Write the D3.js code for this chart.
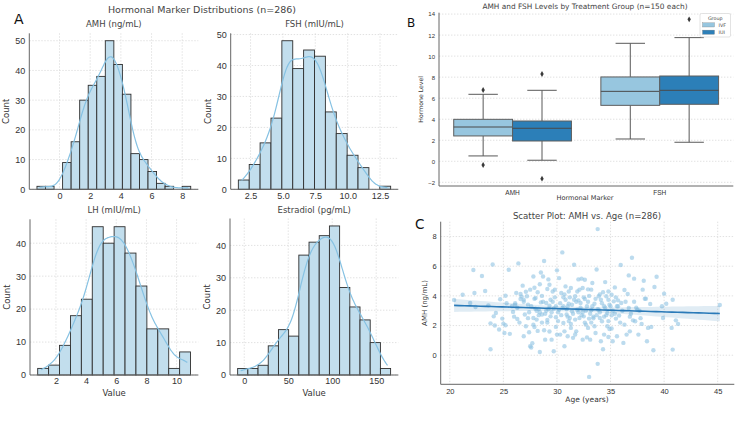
<!DOCTYPE html>
<html>
<head>
<meta charset="utf-8">
<script src="https://cdn.jsdelivr.net/npm/d3@7"></script>
<style>
body { margin: 0; background: #fff; }
svg { font-family: "DejaVu Sans", sans-serif; }
.grid line { stroke: #d4d4d4; stroke-dasharray: 1.4,1.6; stroke-width: 0.7; }
.axis path { stroke: #666; }
.axis line { stroke: #666; }
.axis text { fill: #333; }
</style>
</head>
<body>
<svg id="chart" width="750" height="422"></svg>
<script>
// ---- histogram data (bin start, bin width, counts) ----
var amhStart = -1.47, amhWidth = 0.557;
var amhCounts = [1, 1, 0, 9, 16, 30, 35, 38, 50, 42, 32, 12, 10, 6, 2, 1, 0, 1];
var fshStart = 1.56, fshWidth = 0.84;
var fshCounts = [3, 8, 15, 23, 48, 39, 45, 43, 25, 18, 11, 7, 0, 1];
var lhStart = 0.79, lhWidth = 0.724;
var lhCounts = [2, 3, 9, 18, 23, 45, 40, 45, 37, 27, 14, 14, 2, 7];
var e2Start = -7.5, e2Width = 11.59;
var e2Counts = [2, 2, 3, 9, 14, 12, 37, 41, 43, 46, 27, 21, 17, 10, 2];

var amhTicks = [0, 2, 4, 6, 8];
var fshTicks = [2.5, 5.0, 7.5, 10.0, 12.5];
var lhTicks = [2, 4, 6, 8, 10];
var e2Ticks = [0, 50, 100, 150];

// ---- box plot data ----
var boxMarkers = ["AMH", "FSH"];
var boxGroups = ["IVF", "IUI"];
var ivfLow = [0.51, 2.12], ivfQ1 = [2.41, 5.32], ivfMed = [3.26, 6.65], ivfQ3 = [3.99, 8.02], ivfHigh = [6.37, 11.22];
var ivfOutliers = [[6.78, -0.35], []];
var iuiLow = [0.10, 1.81], iuiQ1 = [1.93, 5.42], iuiMed = [3.14, 6.75], iuiQ3 = [3.83, 8.11], iuiHigh = [6.75, 11.76];
var iuiOutliers = [[8.3, -1.65], [13.5]];
var groupColors = ["#97c6df", "#2c7fb8"];

// ---- scatter data (age, AMH) ----
var ages = [20.4,21.2,21.9,22.2,22.3,22.4,23.0,23.3,23.6,23.8,23.8,24.0,24.1,24.2,24.3,24.6,24.7,24.9,25.0,25.1,25.2,25.3,25.5,25.6,25.2,
  25.9,26.1,26.1,26.3,26.4,26.6,26.6,26.7,26.8,26.9,26.9,27.0,27.1,27.1,27.2,27.3,27.4,27.5,27.5,27.6,27.7,27.8,27.8,27.8,27.9,28.0,28.0,28.1,28.2,28.2,28.3,28.4,28.4,28.5,28.5,28.6,28.7,28.8,28.8,28.9,29.0,29.0,29.1,29.1,29.2,29.3,29.3,29.4,29.4,29.5,29.6,29.7,29.7,29.8,29.9,29.9,30.0,30.0,
  30.2,30.2,30.3,30.4,30.5,30.5,30.6,30.7,30.7,30.8,30.8,30.9,31.0,31.1,31.1,31.2,31.3,31.3,31.4,31.5,31.6,31.6,31.7,31.7,31.8,31.9,32.0,32.1,32.1,32.2,32.3,32.4,32.4,32.5,32.6,32.6,32.7,32.8,32.9,32.9,33.0,33.0,33.1,33.2,33.2,33.3,33.4,33.5,33.5,33.6,33.7,33.8,33.8,33.9,33.9,34.0,34.1,34.1,34.2,34.3,34.3,34.4,34.4,34.5,34.6,34.7,34.7,34.8,34.8,34.9,35.0,
  35.1,35.1,35.2,35.3,35.4,35.5,35.6,35.6,35.7,35.8,35.95,36.0,36.2,36.3,36.5,36.6,36.7,36.7,36.8,37.0,37.1,37.2,37.3,37.5,37.6,37.7,37.9,38.0,38.1,38.2,38.3,38.4,38.5,38.7,38.8,39.0,39.1,39.3,39.8,39.9,40.0,
  40.2,40.7,40.8,40.8,41.1,41.3,45.2,
  26.3,26.9,27.4,27.6,28.1,28.4,28.7,28.9,29.2,29.5,29.6,29.9,30.1,30.3,30.4,30.6,30.9,31.0,31.2,31.4,31.5,31.8,32.0,32.2,32.3,32.5,32.7,32.9,33.1,33.3,33.4,33.6,33.8,34.0,34.2,34.5,34.6,34.9,35.2,35.4,35.7,36.1,36.4,36.9,37.4,27.9,28.6,30.7,31.9,33.0,29.1,31.1,32.6,34.8,26.0,
  26.5,27.3,27.9,28.6,29.3,29.8,30.1,30.6,31.0,31.3,31.7,32.0,32.4,32.8,33.2,33.7,34.0,34.4,34.8,35.1,35.5,35.9,36.3,36.8,37.2,37.8,26.2,25.8,28.3];
var amhValues = [3.72,4.08,3.52,5.74,4.19,3.25,5.34,4.33,3.36,0.40,2.15,6.12,2.62,2.0,2.85,1.73,3.77,2.47,2.13,1.5,4.01,3.5,5.76,1.44,2.02,
  2.92,3.41,3.5,2.44,6.19,3.79,4.13,3.95,4.69,3.74,1.28,2.74,1.95,4.28,3.97,3.41,1.55,4.42,0.6,0.52,0.81,5.31,2.51,2.06,4.55,3.14,3.86,2.4,1.64,4.24,3.12,4.78,0.22,5.58,3.56,2.74,5.31,6.35,1.68,1.05,3.52,3.0,4.46,2.38,5.11,4.75,3.34,3.74,2.62,1.05,4.30,0.27,3.14,4.42,2.56,1.91,5.72,1.39,
  5.2,3.07,1.39,4.19,6.93,3.18,2.17,1.61,0.6,3.74,4.64,2.74,1.28,3.47,4.30,2.51,1.84,4.53,2.96,1.17,6.10,3.74,2.4,3.97,1.61,3.07,5.11,4.42,2.51,3.52,5.16,1.05,4.53,2.62,5.09,3.79,2.06,3.3,4.44,1.84,-1.46,2.47,1.05,4.42,3.03,4.87,2.49,3.47,1.95,1.5,5.78,-0.58,8.5,3.97,3.07,2.51,3.74,0.94,2.29,0.40,4.24,3.30,1.39,4.93,3.97,2.85,1.95,3.74,1.23,1.77,3.3,
  4.08,2.69,0.94,3.63,4.57,2.47,3.30,1.28,3.70,2.67,6.08,3.52,0.83,2.06,1.39,4.13,5.38,3.18,1.61,6.57,2.35,5.16,2.29,3.07,1.39,3.0,2.11,4.42,5.02,3.81,3.81,0.94,1.84,3.45,1.91,0.34,4.60,5.29,3.30,2.51,4.15,
  3.47,1.84,3.74,0.38,2.35,2.11,3.39,
  3.2,3.6,2.9,3.3,3.0,2.9,3.6,2.8,3.1,2.9,3.6,3.3,2.9,3.5,2.7,3.3,3.1,2.6,3.9,3.4,2.8,3.6,2.9,3.2,2.7,3.9,3.0,3.6,2.8,3.3,2.6,3.8,3.1,2.9,3.5,3.2,2.7,3.4,3.0,2.8,3.3,3.0,3.6,2.8,3.2,3.8,4.0,4.1,4.3,4.0,2.2,2.3,2.2,2.3,2.6,
  2.2,2.5,1.9,2.2,1.6,3.9,2.3,3.9,3.3,2.1,1.4,3.7,2.9,1.2,2.2,2.7,4.1,2.6,4.3,1.8,3.9,2.2,4.4,2.6,3.6,2.5,4.2,3.3,2.7];

var svg = d3.select("#chart");

function hline(g, cls, vals, scale, x1, x2) {
    g.append("g").attr("class", cls).selectAll("line").data(vals).join("line")
        .attr("x1", x1).attr("x2", x2)
        .attr("y1", function(d){ return scale(d); })
        .attr("y2", function(d){ return scale(d); });
}
function vline(g, cls, vals, scale, y1, y2) {
    g.append("g").attr("class", cls).selectAll("line").data(vals).join("line")
        .attr("y1", y1).attr("y2", y2)
        .attr("x1", function(d){ return scale(d); })
        .attr("x2", function(d){ return scale(d); });
}

// ---------- Panel A: histograms ----------
function drawHist(o) {
    var g = svg.append("g");
    var x = d3.scaleLinear().domain(o.xDomain).range([o.left, o.right]);
    var y = d3.scaleLinear().domain([0, o.yMax]).range([o.bottom, o.top]);
    var yTicks = d3.range(0, o.yMax, 10);

    vline(g, "grid", o.ticks, x, o.top, o.bottom);
    hline(g, "grid", yTicks, y, o.left, o.right);

    var bins = o.counts.map(function(c, i){
        return { x0: o.start + i * o.width, x1: o.start + (i + 1) * o.width, c: c };
    });
    g.selectAll("rect.bar").data(bins.filter(function(b){ return b.c > 0; })).join("rect")
        .attr("class", "bar")
        .attr("x", function(d){ return x(d.x0); })
        .attr("width", function(d){ return x(d.x1) - x(d.x0); })
        .attr("y", function(d){ return y(d.c); })
        .attr("height", function(d){ return y(0) - y(d.c); })
        .attr("fill", "#c2deed")
        .attr("stroke", "#2e2e2e")
        .attr("stroke-width", 0.9);

    // kde from the binned counts (scott bandwidth)
    var n = d3.sum(bins, function(b){ return b.c; });
    var mean = d3.sum(bins, function(b){ return b.c * (b.x0 + b.x1) / 2; }) / n;
    var sd = Math.sqrt(d3.sum(bins, function(b){ var m = (b.x0 + b.x1) / 2 - mean; return b.c * m * m; }) / (n - 1));
    var bw = sd * Math.pow(n, -0.2);
    var lo = o.start + o.width * 0.3, hi = o.start + o.counts.length * o.width - o.width * 0.3;
    var pts = d3.range(0, 121).map(function(i){
        var xv = lo + (hi - lo) * i / 120;
        var dens = d3.sum(bins, function(b){
            var z = (xv - (b.x0 + b.x1) / 2) / bw;
            return b.c * Math.exp(-0.5 * z * z) / (bw * Math.sqrt(2 * Math.PI));
        });
        return [xv, dens * o.width];
    });
    g.append("path").datum(pts)
        .attr("fill", "none").attr("stroke", "#86c2e3").attr("stroke-width", 1.2)
        .attr("d", d3.line().curve(d3.curveBasis).x(function(d){ return x(d[0]); }).y(function(d){ return y(d[1]); }));

    g.append("g").attr("class", "axis")
        .attr("transform", "translate(0," + o.bottom + ")")
        .call(d3.axisBottom(x).tickValues(o.ticks).tickSize(0).tickPadding(3).tickFormat(o.fmt))
        .call(function(a){ a.selectAll("text").attr("font-size", 9); })
        .select(".domain").attr("d", "M" + o.left + ",0H" + o.right);
    g.append("g").attr("class", "axis")
        .attr("transform", "translate(" + o.left + ",0)")
        .call(d3.axisLeft(y).tickValues(yTicks).tickSize(0).tickPadding(4))
        .call(function(a){ a.selectAll("text").attr("font-size", 9); })
        .select(".domain").attr("d", "M0," + o.top + "V" + o.bottom);

    g.append("text").attr("x", (o.left + o.right) / 2).attr("y", o.top - 6)
        .attr("text-anchor", "middle").attr("font-size", 8.5).attr("fill", "#444").text(o.title);
    g.append("text").attr("transform", "translate(" + (o.left - 20) + "," + ((o.top + o.bottom) / 2) + ") rotate(-90)")
        .attr("text-anchor", "middle").attr("font-size", 8.5).attr("fill", "#333").text("Count");
    if (o.xlabel) {
        g.append("text").attr("x", (o.left + o.right) / 2).attr("y", o.bottom + 21)
            .attr("text-anchor", "middle").attr("font-size", 8.5).attr("fill", "#333").text(o.xlabel);
    }
}

svg.append("text").attr("x", 202).attr("y", 12.5).attr("text-anchor", "middle")
    .attr("font-size", 9.5).attr("fill", "#444").text("Hormonal Marker Distributions (n=286)");
svg.append("text").attr("x", 14).attr("y", 24).attr("font-size", 14).attr("fill", "#111").text("A");

drawHist({ title: "AMH (ng/mL)", start: amhStart, width: amhWidth, counts: amhCounts, ticks: amhTicks,
    xDomain: [-1.97, 9.05], yMax: 52.5, left: 29.3, right: 198.3, top: 33.3, bottom: 189.3, fmt: d3.format("d") });
drawHist({ title: "FSH (mIU/mL)", start: fshStart, width: fshWidth, counts: fshCounts, ticks: fshTicks,
    xDomain: [0.97, 13.91], yMax: 50.4, left: 230.7, right: 398.3, top: 33.3, bottom: 189.3, fmt: d3.format(".1f") });
drawHist({ title: "LH (mIU/mL)", start: lhStart, width: lhWidth, counts: lhCounts, ticks: lhTicks,
    xDomain: [0.28, 11.44], yMax: 47.25, left: 30, right: 198.3, top: 219.3, bottom: 375, fmt: d3.format("d"), xlabel: "Value" });
drawHist({ title: "Estradiol (pg/mL)", start: e2Start, width: e2Width, counts: e2Counts, ticks: e2Ticks,
    xDomain: [-16.2, 175.1], yMax: 48.3, left: 230, right: 398.3, top: 218.5, bottom: 375, fmt: d3.format("d"), xlabel: "Value" });

// ---------- Panel B: box plot ----------
(function(){
    var left = 439, right = 733.3, top = 12.7, bottom = 186;
    var g = svg.append("g");
    var x = d3.scaleBand().domain(boxMarkers).range([left, right]);
    var xs = d3.scaleBand().domain(boxGroups).range([x.bandwidth() * 0.1, x.bandwidth() * 0.9]);
    var y = d3.scaleLinear().domain([-2.35, 14.13]).range([bottom, top]);
    var yTicks = d3.range(-2, 15, 2);

    hline(g, "grid", yTicks, y, left, right);

    var rows = [];
    boxMarkers.forEach(function(m, i){
        rows.push({ m: m, grp: "IVF", lo: ivfLow[i], q1: ivfQ1[i], med: ivfMed[i], q3: ivfQ3[i], hi: ivfHigh[i], out: ivfOutliers[i] });
        rows.push({ m: m, grp: "IUI", lo: iuiLow[i], q1: iuiQ1[i], med: iuiMed[i], q3: iuiQ3[i], hi: iuiHigh[i], out: iuiOutliers[i] });
    });
    var w = xs.bandwidth();
    var color = d3.scaleOrdinal().domain(boxGroups).range(groupColors);
    var bx = g.selectAll("g.box").data(rows).join("g").attr("class", "box")
        .attr("transform", function(d){ return "translate(" + (x(d.m) + xs(d.grp)) + ",0)"; });
    bx.append("line").attr("x1", w / 2).attr("x2", w / 2)
        .attr("y1", function(d){ return y(d.lo); }).attr("y2", function(d){ return y(d.q1); })
        .attr("stroke", "#595959").attr("stroke-width", 1);
    bx.append("line").attr("x1", w / 2).attr("x2", w / 2)
        .attr("y1", function(d){ return y(d.q3); }).attr("y2", function(d){ return y(d.hi); })
        .attr("stroke", "#595959").attr("stroke-width", 1);
    bx.append("line").attr("x1", w * 0.25).attr("x2", w * 0.75)
        .attr("y1", function(d){ return y(d.lo); }).attr("y2", function(d){ return y(d.lo); })
        .attr("stroke", "#595959").attr("stroke-width", 1);
    bx.append("line").attr("x1", w * 0.25).attr("x2", w * 0.75)
        .attr("y1", function(d){ return y(d.hi); }).attr("y2", function(d){ return y(d.hi); })
        .attr("stroke", "#595959").attr("stroke-width", 1);
    bx.append("rect").attr("x", 0).attr("width", w)
        .attr("y", function(d){ return y(d.q3); })
        .attr("height", function(d){ return y(d.q1) - y(d.q3); })
        .attr("fill", function(d){ return color(d.grp); })
        .attr("stroke", "#5e5e5e").attr("stroke-width", 1);
    bx.append("line").attr("x1", 0).attr("x2", w)
        .attr("y1", function(d){ return y(d.med); }).attr("y2", function(d){ return y(d.med); })
        .attr("stroke", "#4a4a4a").attr("stroke-width", 1);
    bx.selectAll("path.out").data(function(d){ return d.out; }).join("path")
        .attr("class", "out")
        .attr("transform", function(v){ return "translate(" + (w / 2) + "," + y(v) + ")"; })
        .attr("d", d3.symbol(d3.symbolDiamond, 10))
        .attr("fill", "#3a3a3a");

    g.append("g").attr("class", "axis")
        .attr("transform", "translate(0," + bottom + ")")
        .call(d3.axisBottom(x).tickSize(0).tickPadding(4))
        .call(function(a){ a.selectAll("text").attr("font-size", 6.5); })
        .select(".domain").attr("d", "M" + left + ",0H" + right);
    g.append("g").attr("class", "axis")
        .attr("transform", "translate(" + left + ",0)")
        .call(d3.axisLeft(y).tickValues(yTicks).tickSize(0).tickPadding(4))
        .call(function(a){ a.selectAll("text").attr("font-size", 6); })
        .select(".domain").attr("d", "M0," + top + "V" + bottom);

    svg.append("text").attr("x", 585).attr("y", 9.2).attr("text-anchor", "middle")
        .attr("font-size", 7.4).attr("fill", "#444").text("AMH and FSH Levels by Treatment Group (n=150 each)");
    svg.append("text").attr("x", 585).attr("y", 200).attr("text-anchor", "middle")
        .attr("font-size", 6.6).attr("fill", "#333").text("Hormonal Marker");
    svg.append("text").attr("transform", "translate(422.5," + ((top + bottom) / 2) + ") rotate(-90)")
        .attr("text-anchor", "middle").attr("font-size", 6.2).attr("fill", "#333").text("Hormone Level");
    svg.append("text").attr("x", 407).attr("y", 27).attr("font-size", 12).attr("fill", "#111").text("B");

    // legend
    var lg = svg.append("g").attr("transform", "translate(700,13.5)");
    lg.append("rect").attr("width", 30.5).attr("height", 23.5).attr("rx", 1.5)
        .attr("fill", "#fff").attr("stroke", "#d0d0d0").attr("stroke-width", 0.6);
    lg.append("text").attr("x", 15.2).attr("y", 6.3).attr("text-anchor", "middle")
        .attr("font-size", 4.8).attr("fill", "#444").text("Group");
    boxGroups.forEach(function(grp, i){
        lg.append("rect").attr("x", 2.5).attr("y", 9.3 + i * 7.3).attr("width", 12).attr("height", 4.2)
            .attr("fill", color(grp)).attr("stroke", "#777").attr("stroke-width", 0.3);
        lg.append("text").attr("x", 18.5).attr("y", 13 + i * 7.3)
            .attr("font-size", 4.8).attr("fill", "#444").text(grp);
    });
})();

// ---------- Panel C: scatter with regression ----------
(function(){
    var left = 440.7, right = 734.3, top = 221.7, bottom = 384.3;
    var g = svg.append("g");
    var x = d3.scaleLinear().domain([19.15, 46.55]).range([left, right]);
    var y = d3.scaleLinear().domain([-1.96, 9.0]).range([bottom, top]);
    var xTicks = [20, 25, 30, 35, 40, 45], yTicks = [0, 2, 4, 6, 8];

    vline(g, "grid", xTicks, x, top, bottom);
    hline(g, "grid", yTicks, y, left, right);

    var pts = ages.map(function(a, i){ return [a, amhValues[i]]; });
    g.selectAll("circle").data(pts).join("circle")
        .attr("cx", function(d){ return x(d[0]); })
        .attr("cy", function(d){ return y(d[1]); })
        .attr("r", 2.2)
        .attr("fill", "#8fc3e2").attr("fill-opacity", 0.6);

    // ordinary least squares fit with 95% band
    var n = pts.length;
    var mx = d3.mean(ages), my = d3.mean(amhValues);
    var sxx = d3.sum(ages, function(a){ return (a - mx) * (a - mx); });
    var sxy = d3.sum(pts, function(p){ return (p[0] - mx) * (p[1] - my); });
    var b1 = sxy / sxx, b0 = my - b1 * mx;
    var s = Math.sqrt(d3.sum(pts, function(p){ var r = p[1] - (b0 + b1 * p[0]); return r * r; }) / (n - 2));
    var xmin = d3.min(ages), xmax = d3.max(ages);
    var fit = d3.range(0, 51).map(function(i){
        var xv = xmin + (xmax - xmin) * i / 50;
        var se = s * Math.sqrt(1 / n + (xv - mx) * (xv - mx) / sxx);
        return { x: xv, y: b0 + b1 * xv, lo: b0 + b1 * xv - 1.97 * se, hi: b0 + b1 * xv + 1.97 * se };
    });
    g.append("path").datum(fit)
        .attr("fill", "#2c7fb8").attr("fill-opacity", 0.15)
        .attr("d", d3.area().x(function(d){ return x(d.x); }).y0(function(d){ return y(d.lo); }).y1(function(d){ return y(d.hi); }));
    g.append("path").datum(fit)
        .attr("fill", "none").attr("stroke", "#2a7ab8").attr("stroke-width", 1.6)
        .attr("d", d3.line().x(function(d){ return x(d.x); }).y(function(d){ return y(d.y); }));

    g.append("g").attr("class", "axis")
        .attr("transform", "translate(0," + bottom + ")")
        .call(d3.axisBottom(x).tickValues(xTicks).tickSize(0).tickPadding(4))
        .call(function(a){ a.selectAll("text").attr("font-size", 7.5); })
        .select(".domain").attr("d", "M" + left + ",0H" + right);
    g.append("g").attr("class", "axis")
        .attr("transform", "translate(" + left + ",0)")
        .call(d3.axisLeft(y).tickValues(yTicks).tickSize(0).tickPadding(4))
        .call(function(a){ a.selectAll("text").attr("font-size", 7.5); })
        .select(".domain").attr("d", "M0," + top + "V" + bottom);

    svg.append("text").attr("x", 587).attr("y", 218.8).attr("text-anchor", "middle")
        .attr("font-size", 8.6).attr("fill", "#444").text("Scatter Plot: AMH vs. Age (n=286)");
    svg.append("text").attr("x", 587).attr("y", 402).attr("text-anchor", "middle")
        .attr("font-size", 7.5).attr("fill", "#333").text("Age (years)");
    svg.append("text").attr("transform", "translate(427," + ((top + bottom) / 2) + ") rotate(-90)")
        .attr("text-anchor", "middle").attr("font-size", 7).attr("fill", "#333").text("AMH (ng/mL)");
    svg.append("text").attr("x", 415).attr("y", 229).attr("font-size", 13.5).attr("fill", "#111").text("C");
})();
</script>
</body>
</html>
